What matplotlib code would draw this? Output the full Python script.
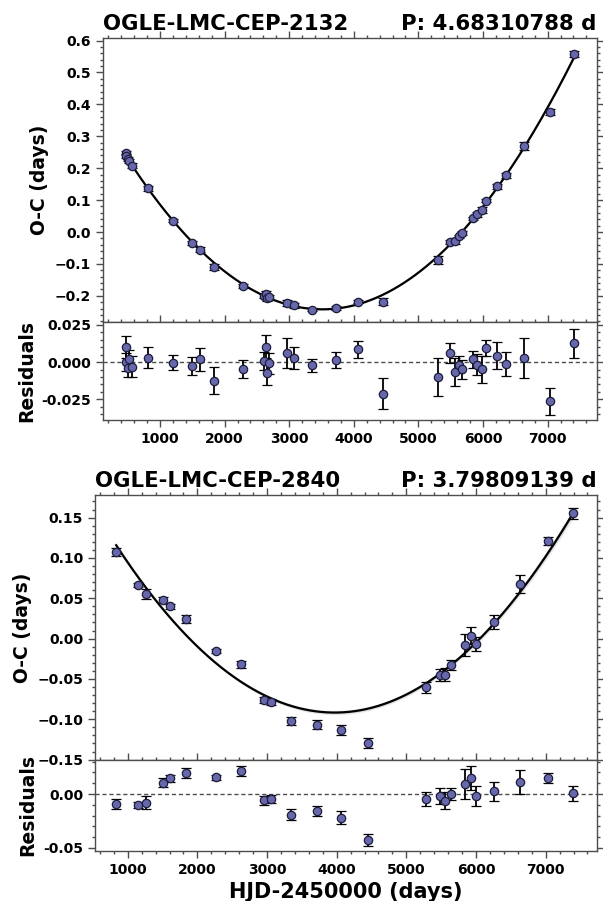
import numpy as np
import matplotlib
matplotlib.use("Agg")
import matplotlib.pyplot as plt
from matplotlib.ticker import MultipleLocator

# ---------------- data: OGLE-LMC-CEP-2132 ----------------
name1 = "OGLE-LMC-CEP-2132"
period1 = "P: 4.68310788 d"
hjd1 = [470, 476, 501, 526, 562, 819, 1195, 1500, 1618, 1835, 2278, 2608, 2634,
        2659, 2685, 2968, 3071, 3354, 3730, 4069, 4452, 5302, 5495, 5567, 5621,
        5678, 5844, 5910, 5977, 6039, 6216, 6355, 6635, 7039, 7405]
oc1 = [0.248, 0.237, 0.229, 0.222, 0.208, 0.137, 0.035, -0.035, -0.055, -0.110,
       -0.168, -0.200, -0.193, -0.208, -0.205, -0.222, -0.230, -0.243, -0.238,
       -0.218, -0.218, -0.087, -0.031, -0.029, -0.014, -0.003, 0.043, 0.055,
       0.068, 0.098, 0.143, 0.178, 0.270, 0.376, 0.557]
res1 = [0.010, 0.000, -0.004, 0.002, -0.003, 0.003, -0.0004, -0.0027, 0.0018,
        -0.0124, -0.0047, 0.0005, 0.0102, -0.0071, -0.0007, 0.006, 0.0027,
        -0.0022, 0.0016, 0.0085, -0.0211, -0.010, 0.006, -0.0067, -0.0018,
        -0.0049, 0.0018, -0.0018, -0.0049, 0.0093, 0.0043, -0.0011, 0.0027,
        -0.0264, 0.0125]
err1 = [0.0071, 0.006, 0.006, 0.006, 0.0068, 0.0070, 0.0051, 0.0058, 0.0077,
        0.0093, 0.0063, 0.0060, 0.0077, 0.0080, 0.0070, 0.0103, 0.0074, 0.0042,
        0.0054, 0.0059, 0.0104, 0.0128, 0.0069, 0.0094, 0.0058, 0.0062, 0.0055,
        0.0070, 0.0092, 0.0052, 0.0090, 0.0080, 0.0133, 0.0093, 0.0096]

# ---------------- data: OGLE-LMC-CEP-2840 ----------------
name2 = "OGLE-LMC-CEP-2840"
period2 = "P: 3.79809139 d"
hjd2 = [834, 1146, 1259, 1503, 1610, 1837, 2263, 2633, 2958, 3058, 3338, 3716,
        4065, 4448, 5288, 5480, 5558, 5642, 5845, 5927, 6001, 6259, 6627, 7031,
        7387]
oc2 = [0.1073, 0.066, 0.0555, 0.0476, 0.040, 0.0238, -0.0148, -0.032, -0.076,
       -0.0785, -0.1024, -0.1065, -0.1135, -0.1295, -0.0604, -0.0449, -0.0449,
       -0.0325, -0.0079, 0.0037, -0.0066, 0.021, 0.0678, 0.1204, 0.1554]
res2 = [-0.009, -0.0102, -0.0083, 0.0105, 0.0145, 0.0194, 0.0155, 0.0213,
        -0.0059, -0.0046, -0.0191, -0.0157, -0.0219, -0.0426, -0.0049, -0.0016,
        -0.0062, 0.0, 0.0093, 0.0148, -0.0019, 0.0025, 0.0108, 0.0148, 0.0006]
err2 = [0.0045, 0.0025, 0.006, 0.004, 0.0033, 0.005, 0.0025, 0.0045, 0.004,
        0.0033, 0.005, 0.005, 0.0058, 0.006, 0.0066, 0.0074, 0.008, 0.006,
        0.0136, 0.011, 0.009, 0.0088, 0.011, 0.005, 0.0068]

xlabel = "HJD-2450000 (days)"
ylabel_main = "O-C (days)"
ylabel_res = "Residuals"

# ---------------- style ----------------
FACE = "#6767ab"
EDGE = "#1e1e3c"
SPINE = "0.3"

fig = plt.figure(figsize=(6.03, 9.01), dpi=100)


def style(ax, xmaj=1000, xmin=200, ymaj=None, ymin=None):
    ax.xaxis.set_major_locator(MultipleLocator(xmaj))
    ax.xaxis.set_minor_locator(MultipleLocator(xmin))
    if ymaj is not None:
        ax.yaxis.set_major_locator(MultipleLocator(ymaj))
    if ymin is not None:
        ax.yaxis.set_minor_locator(MultipleLocator(ymin))
    ax.tick_params(which="both", direction="out", top=True, right=True,
                   color=SPINE, width=1.0)
    ax.tick_params(which="major", length=5, labelsize=10)
    ax.tick_params(which="minor", length=2.5)
    for s in ax.spines.values():
        s.set_color(SPINE)
        s.set_linewidth(1.0)


def model_band(x, y, res, err):
    x = np.asarray(x, float)
    base = np.asarray(y, float) - np.asarray(res, float)
    coef, cov = np.polyfit(x, base, 2, w=1.0 / np.asarray(err), cov=True)
    xs = np.linspace(x.min(), x.max(), 400)
    V = np.vander(xs, 3)
    ys = V @ coef
    sig = np.sqrt(np.einsum("ij,jk,ik->i", V, cov, V))
    return xs, ys, sig


def panel(rect_main, rect_res, x, y, res, err, name, period, xlim,
          ylim_main, ylim_res, ymaj, ymin, rmaj, rmin, rfmt, show_xlabel,
          band_width):
    axm = fig.add_axes(rect_main)
    axr = fig.add_axes(rect_res, sharex=axm)

    xs, ys, sig = model_band(x, y, res, err)
    # smooth grey uncertainty band, normalised so the widest part equals band_width
    w = sig / sig.max() * band_width
    for k, a in [(1.0, 0.08), (0.75, 0.10), (0.5, 0.14), (0.25, 0.18)]:
        axm.fill_between(xs, ys - k * w, ys + k * w,
                         color="0.5", alpha=a, lw=0, zorder=1)
    axm.plot(xs, ys, color="black", lw=1.6, zorder=2)
    axm.errorbar(x, y, yerr=err, fmt="o", ms=6, mfc=FACE, mec=EDGE, mew=0.9,
                 ecolor="black", elinewidth=1.3, capsize=3.5, capthick=1.3,
                 zorder=3)
    axm.set_xlim(*xlim)
    axm.set_ylim(*ylim_main)
    style(axm, ymaj=ymaj, ymin=ymin)
    axm.tick_params(labelbottom=False)
    axm.set_ylabel(ylabel_main, fontsize=13.5, fontweight="bold")
    axm.set_title(name, loc="left", fontsize=15.3, fontweight="bold", pad=6)
    axm.set_title(period, loc="right", fontsize=15.3, fontweight="bold", pad=6)

    axr.axhline(0, color="0.3", lw=1.0, ls=(0, (3, 2)), zorder=1)
    axr.errorbar(x, res, yerr=err, fmt="o", ms=6, mfc=FACE, mec=EDGE, mew=0.9,
                 ecolor="black", elinewidth=1.3, capsize=3.5, capthick=1.3,
                 zorder=3)
    axr.set_ylim(*ylim_res)
    style(axr, ymaj=rmaj, ymin=rmin)
    axr.yaxis.set_major_formatter(matplotlib.ticker.FormatStrFormatter(rfmt))
    axr.set_ylabel(ylabel_res, fontsize=13.5, fontweight="bold")
    if show_xlabel:
        axr.set_xlabel(xlabel, fontsize=15, fontweight="bold")
    for ax in (axm, axr):
        for lab in ax.get_xticklabels() + ax.get_yticklabels():
            lab.set_fontweight("bold")
    return axm, axr


W, H = 603.0, 901.0


def rect(l, r, t, b):
    return [l / W, 1 - b / H, (r - l) / W, (b - t) / H]


panel(rect(103, 596.5, 38, 322), rect(103, 596.5, 322, 420),
      hjd1, oc1, res1, err1, name1, period1, (117, 7757),
      (-0.282, 0.608), (-0.0388, 0.0268), 0.1, 0.02, 0.025, 0.005, "%.3f",
      False, 0.006)

panel(rect(95, 596.5, 495, 760), rect(95, 596.5, 760, 851),
      hjd2, oc2, res2, err2, name2, period2, (530, 7730),
      (-0.1505, 0.178), (-0.0528, 0.0315), 0.05, 0.01, 0.05, 0.01, "%.2f",
      True, 0.007)

fig.savefig("out.png", dpi=100)
